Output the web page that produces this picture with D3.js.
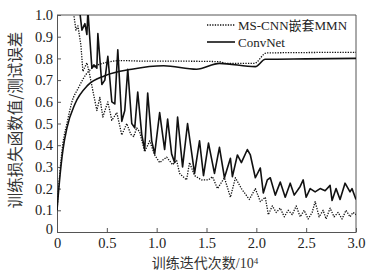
<!DOCTYPE html>
<html>
<head>
<meta charset="utf-8">
<script src="https://cdn.jsdelivr.net/npm/d3@7"></script>
<style>
  body { margin: 0; background: #fff; }
  svg { display: block; }
</style>
</head>
<body>
<div id="chart"></div>
<script>
// x axis in units of 10^4 iterations
const xTicks = [0, 0.5, 1.0, 1.5, 2.0, 2.5, 3.0];
const yTicks = [0, 0.1, 0.2, 0.3, 0.4, 0.5, 0.6, 0.7, 0.8, 0.9, 1.0];
const seriesNames = ["MS-CNN嵌套MMN", "ConvNet"];

// test error curves
const msTestX = [0, 0.03, 0.06, 0.1, 0.15, 0.21, 0.31, 0.48, 0.65, 0.8, 1.0, 1.3, 1.63, 1.7, 1.98, 2.1, 2.5, 3.0];
const msTestY = [0.1, 0.28, 0.41, 0.5, 0.6, 0.66, 0.737, 0.78, 0.79, 0.788, 0.787, 0.787, 0.785, 0.777, 0.777, 0.825, 0.827, 0.828];
const convTestX = [0, 0.03, 0.06, 0.1, 0.18, 0.31, 0.48, 0.75, 1.07, 1.4, 1.63, 1.99, 2.09, 2.5, 3.0];
const convTestY = [0.1, 0.26, 0.38, 0.48, 0.59, 0.677, 0.72, 0.75, 0.766, 0.75, 0.777, 0.762, 0.796, 0.798, 0.8];

// training loss curves
const msLossX = [0.16, 0.19, 0.21, 0.24, 0.26, 0.3, 0.33, 0.36, 0.4, 0.43, 0.46, 0.51, 0.55, 0.6, 0.65, 0.7, 0.74, 0.77, 0.8, 0.83, 0.88, 0.93, 0.98, 1.03, 1.1, 1.16, 1.2, 1.23, 1.3, 1.33, 1.38, 1.45, 1.52, 1.56, 1.61, 1.68, 1.74, 1.79, 1.85, 1.93, 1.99, 2.04, 2.09, 2.12, 2.16, 2.2, 2.24, 2.28, 2.32, 2.36, 2.4, 2.44, 2.48, 2.52, 2.56, 2.59, 2.63, 2.67, 2.7, 2.74, 2.78, 2.82, 2.86, 2.9, 2.94, 2.97, 3.0];
const msLossY = [1.03, 0.93, 0.95, 0.86, 0.74, 0.78, 0.72, 0.65, 0.56, 0.62, 0.53, 0.6, 0.515, 0.55, 0.447, 0.5, 0.45, 0.44, 0.48, 0.46, 0.37, 0.42, 0.355, 0.32, 0.345, 0.31, 0.33, 0.27, 0.24, 0.32, 0.26, 0.24, 0.24, 0.255, 0.2, 0.25, 0.16, 0.25, 0.2, 0.15, 0.2, 0.14, 0.16, 0.08, 0.12, 0.09, 0.11, 0.07, 0.1, 0.08, 0.12, 0.07, 0.1, 0.06, 0.09, 0.14, 0.07, 0.1, 0.06, 0.11, 0.07, 0.09, 0.06, 0.1, 0.07, 0.09, 0.08];
const convLossX = [0.22, 0.25, 0.28, 0.3, 0.31, 0.35, 0.37, 0.4, 0.41, 0.45, 0.48, 0.51, 0.55, 0.58, 0.61, 0.65, 0.68, 0.71, 0.75, 0.78, 0.81, 0.85, 0.88, 0.91, 0.95, 0.98, 1.03, 1.08, 1.11, 1.15, 1.18, 1.21, 1.26, 1.31, 1.38, 1.43, 1.47, 1.52, 1.58, 1.63, 1.68, 1.74, 1.76, 1.81, 1.85, 1.91, 1.94, 1.99, 2.04, 2.07, 2.11, 2.14, 2.19, 2.24, 2.29, 2.34, 2.38, 2.44, 2.47, 2.5, 2.54, 2.59, 2.64, 2.69, 2.74, 2.76, 2.8, 2.84, 2.89, 2.94, 2.96, 3.0];
const convLossY = [1.05, 0.93, 0.96, 0.91, 1.02, 0.755, 0.77, 0.755, 0.915, 0.68, 0.7, 0.81, 0.6, 0.59, 0.84, 0.51, 0.56, 0.75, 0.5, 0.48, 0.645, 0.45, 0.38, 0.64, 0.42, 0.36, 0.55, 0.38, 0.52, 0.36, 0.32, 0.53, 0.3, 0.5, 0.27, 0.42, 0.26, 0.41, 0.27, 0.39, 0.25, 0.34, 0.255, 0.355, 0.32, 0.38, 0.355, 0.25, 0.295, 0.18, 0.24, 0.25, 0.17, 0.23, 0.16, 0.225, 0.17, 0.21, 0.24, 0.16, 0.2, 0.185, 0.2, 0.19, 0.215, 0.145, 0.2, 0.15, 0.225, 0.185, 0.2, 0.15];

const W = 388, H = 275;
const margin = { top: 15, right: 32, bottom: 43, left: 57 };
const w = W - margin.left - margin.right;
const h = H - margin.top - margin.bottom;

const serif = "'Liberation Serif', 'Times New Roman', serif";
const cjk = "'Liberation Serif', 'Noto Sans CJK SC', serif";

function zip(xs, ys) {
  return xs.map((x, i) => ({ x: x, y: ys[i] }));
}

const svgRoot = d3.select("#chart").append("svg").attr("width", W).attr("height", H);

svgRoot.append("defs").append("clipPath").attr("id", "plotClip")
  .append("rect").attr("width", w).attr("height", h);

const svg = svgRoot.append("g").attr("transform", `translate(${margin.left},${margin.top})`);

const xScale = d3.scaleLinear().domain([0, 3]).range([0, w]);
const yScale = d3.scaleLinear().domain([0, 1]).range([h, 0]);

// axes (ticks point inward)
const xAxis = d3.axisBottom(xScale).tickValues(xTicks).tickSizeInner(-4).tickSizeOuter(0)
  .tickPadding(8).tickFormat((d) => (d === 0 ? "0" : d3.format(".1f")(d)));
const yAxis = d3.axisLeft(yScale).tickValues(yTicks).tickSizeInner(-4).tickSizeOuter(0)
  .tickPadding(4).tickFormat((d) => (d === 0 ? "0" : d3.format(".1f")(d)));

const gx = svg.append("g").attr("transform", `translate(0,${h})`).call(xAxis);
const gy = svg.append("g").call(yAxis);

[gx, gy].forEach((g) => {
  g.select(".domain").attr("stroke", "#555");
  g.selectAll(".tick line").attr("stroke", "#555");
  g.selectAll(".tick text").attr("fill", "#222").style("font-family", serif).style("font-size", "14.5px");
});
gx.selectAll(".tick text").attr("dy", "0.55em");
gy.selectAll(".tick text").filter((d) => d === 0).attr("dy", "0.1em");

// top and right frame
svg.append("line").attr("x1", 0).attr("x2", w).attr("y1", 0).attr("y2", 0).attr("stroke", "#555");
svg.append("line").attr("x1", w).attr("x2", w).attr("y1", 0).attr("y2", h).attr("stroke", "#555");

const plot = svg.append("g").attr("clip-path", "url(#plotClip)");

const smooth = d3.line().x((d) => xScale(d.x)).y((d) => yScale(d.y)).curve(d3.curveMonotoneX);
const jagged = d3.line().x((d) => xScale(d.x)).y((d) => yScale(d.y));

const dotted = { stroke: "#111", width: 1.3, dash: "1.3,1.3" };
const solid = { stroke: "#111", width: 1.6, dash: null };

function drawLine(data, gen, st) {
  plot.append("path")
    .datum(data)
    .attr("d", gen)
    .attr("fill", "none")
    .attr("stroke", st.stroke)
    .attr("stroke-width", st.width)
    .attr("stroke-dasharray", st.dash)
    .attr("stroke-linejoin", "round");
}

drawLine(zip(msLossX, msLossY), jagged, dotted);
drawLine(zip(convLossX, convLossY), jagged, solid);
drawLine(zip(msTestX, msTestY), smooth, dotted);
drawLine(zip(convTestX, convTestY), smooth, solid);

// legend
const legend = svg.append("g").attr("transform", `translate(${207 - margin.left},${25 - margin.top})`);
[dotted, solid].forEach((st, i) => {
  legend.append("line")
    .attr("x1", 0).attr("x2", 28).attr("y1", i * 17).attr("y2", i * 17)
    .attr("stroke", st.stroke).attr("stroke-width", st.width).attr("stroke-dasharray", st.dash);
  legend.append("text")
    .attr("x", 31).attr("y", i * 17 + 5)
    .style("font-family", cjk).style("font-size", "13px").attr("fill", "#222")
    .text(seriesNames[i]);
});

// axis titles
svgRoot.append("text")
  .attr("x", 205).attr("y", 268)
  .attr("text-anchor", "middle")
  .style("font-family", cjk).style("font-size", "14px").attr("fill", "#333")
  .text("训练迭代次数/10")
  .append("tspan").attr("dy", "-0.45em").style("font-size", "9px").text("4");

svgRoot.append("text")
  .attr("transform", "translate(21,120) rotate(-90)")
  .attr("text-anchor", "middle")
  .style("font-family", "'Noto Sans CJK SC', sans-serif").style("font-size", "15.5px").attr("fill", "#333")
  .text("训练损失函数值/测试误差");
</script>
</body>
</html>
